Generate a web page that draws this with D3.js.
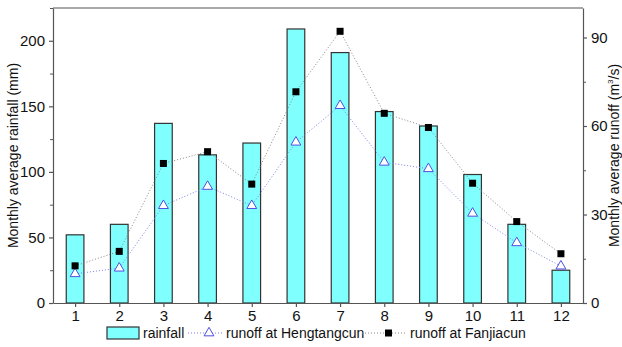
<!DOCTYPE html>
<html>
<head>
<meta charset="utf-8">
<script src="https://cdn.jsdelivr.net/npm/d3@7"></script>
<style>
  body { margin: 0; background: #fff; }
  svg { display: block; font-family: Arial, 'Liberation Sans', sans-serif; }
</style>
</head>
<body>
<svg></svg>
<script>
(function (d3) {
  'use strict'

  const months = [1, 2, 3, 4, 5, 6, 7, 8, 9, 10, 11, 12]
  const rainfall = [52, 60, 137, 113, 122, 209, 191, 146, 135, 98, 60, 25]
  const runoffHengtang = [9.9, 11.8, 33.0, 39.5, 33.0, 54.5, 66.9, 47.7, 45.5, 30.4, 20.4, 12.5]
  const runoffFanjia = [12.6, 17.5, 47.3, 51.3, 40.3, 71.6, 92.1, 64.3, 59.5, 40.6, 27.6, 16.7]
  const rainTicks = [0, 50, 100, 150, 200]
  const runoffTicks = [0, 30, 60, 90]

  const width = 622
  const height = 347
  const margin = { top: 8, right: 39, bottom: 44, left: 53 }
  const innerWidth = width - margin.left - margin.right
  const innerHeight = height - margin.top - margin.bottom

  const svg = d3.select('svg').
    attr('width', width).
    attr('height', height)

  const g = svg.append('g').
    attr('transform', `translate(${margin.left},${margin.top})`)

  const x = d3.scaleLinear().domain([0.5, 12.5]).range([0, innerWidth])
  const yRain = d3.scaleLinear().domain([0, 225]).range([innerHeight, 0])
  const yRun = d3.scaleLinear().domain([0, 100]).range([innerHeight, 0])
  const barWidth = (x(2) - x(1)) * 0.4

  // bars
  g.selectAll('rect.bar').data(months).
    enter().append('rect').
    attr('class', 'bar').
    attr('x', d => x(d) - barWidth / 2).
    attr('y', (d, i) => yRain(rainfall[i])).
    attr('width', barWidth).
    attr('height', (d, i) => innerHeight - yRain(rainfall[i])).
    attr('fill', '#80ffff').
    attr('stroke', '#333').
    attr('stroke-width', 1.2)

  const line = vals => d3.line().
    x(d => x(d)).
    y((d, i) => yRun(vals[i]))(months)

  g.append('path').
    attr('d', line(runoffHengtang)).
    attr('fill', 'none').
    attr('stroke', '#8080ee').
    attr('stroke-width', 1).
    attr('stroke-dasharray', '1,2')

  g.append('path').
    attr('d', line(runoffFanjia)).
    attr('fill', 'none').
    attr('stroke', '#888').
    attr('stroke-width', 1).
    attr('stroke-dasharray', '1,2')

  const tri = d3.symbol().type(d3.symbolTriangle).size(42)

  g.selectAll('path.tri').data(months).
    enter().append('path').
    attr('class', 'tri').
    attr('d', tri).
    attr('transform', (d, i) => `translate(${x(d)},${yRun(runoffHengtang[i])})`).
    attr('fill', '#fff').
    attr('stroke', '#5050e0').
    attr('stroke-width', 1)

  g.selectAll('rect.sq').data(months).
    enter().append('rect').
    attr('class', 'sq').
    attr('x', d => x(d) - 3.5).
    attr('y', (d, i) => yRun(runoffFanjia[i]) - 3.5).
    attr('width', 7).
    attr('height', 7).
    attr('fill', '#000')

  // axes
  const styleAxis = sel => {
    sel.select('.domain').attr('stroke', '#555').attr('stroke-width', 1.2)
    sel.selectAll('.tick line').attr('stroke', '#555').attr('stroke-width', 1.2)
    sel.selectAll('.tick text').attr('font-size', 15).attr('fill', '#111')
      .attr('font-family', 'Arial, "Liberation Sans", sans-serif')
  }

  const minorAxis = (axis, scale, ticks) => axis(scale).tickValues(ticks).tickSize(3).tickFormat('')

  g.append('g').
    attr('transform', `translate(0,${innerHeight})`).
    call(d3.axisBottom(x).tickValues(months).tickSize(4).tickSizeOuter(0).tickPadding(3)).
    call(styleAxis)

  g.append('g').
    call(d3.axisLeft(yRain).tickValues(rainTicks).tickSize(4).tickSizeOuter(0).tickPadding(4)).
    call(styleAxis)
  g.append('g').
    call(minorAxis(d3.axisLeft, yRain, [25, 75, 125, 175, 225])).
    call(sel => sel.select('.domain').remove()).
    call(sel => sel.selectAll('.tick line').attr('stroke', '#555'))

  g.append('g').
    attr('transform', `translate(${innerWidth},0)`).
    call(d3.axisRight(yRun).tickValues(runoffTicks).tickSize(4).tickSizeOuter(0).tickPadding(4)).
    call(styleAxis)
  g.append('g').
    attr('transform', `translate(${innerWidth},0)`).
    call(minorAxis(d3.axisRight, yRun, [15, 45, 75])).
    call(sel => sel.select('.domain').remove()).
    call(sel => sel.selectAll('.tick line').attr('stroke', '#555'))

  g.append('line').
    attr('x1', 0).attr('x2', innerWidth).
    attr('y1', 0).attr('y2', 0).
    attr('stroke', '#555').attr('stroke-width', 1.2)

  // axis titles
  svg.append('text').
    attr('transform', `translate(18,${margin.top + innerHeight / 2}) rotate(-90)`).
    attr('text-anchor', 'middle').
    attr('font-size', 14).
    attr('fill', '#111').
    text('Monthly average rainfall (mm)')

  const rt = svg.append('text').
    attr('transform', `translate(619,${margin.top + innerHeight / 2}) rotate(-90)`).
    attr('text-anchor', 'middle').
    attr('font-size', 14).
    attr('fill', '#111')
  rt.append('tspan').text('Monthly average runoff (m')
  rt.append('tspan').attr('font-size', 8).attr('dy', -6).text('3')
  rt.append('tspan').attr('dy', 6).text('/s)')

  // legend
  const legend = svg.append('g').attr('font-size', 14).attr('fill', '#111')
  const ly = 333

  legend.append('rect').
    attr('x', 107).attr('y', ly - 6).
    attr('width', 32).attr('height', 12).
    attr('fill', '#80ffff').attr('stroke', '#333').attr('stroke-width', 1.2)
  legend.append('text').attr('x', 143).attr('y', ly + 5).text('rainfall')

  legend.append('line').
    attr('x1', 188).attr('x2', 224).attr('y1', ly).attr('y2', ly).
    attr('stroke', '#8080ee').attr('stroke-dasharray', '1,2')
  legend.append('path').
    attr('d', tri).
    attr('transform', `translate(209,${ly})`).
    attr('fill', '#fff').attr('stroke', '#5050e0')
  legend.append('text').attr('x', 226).attr('y', ly + 5).text('runoff at Hengtangcun')

  legend.append('line').
    attr('x1', 362).attr('x2', 407).attr('y1', ly).attr('y2', ly).
    attr('stroke', '#888').attr('stroke-dasharray', '1,2')
  legend.append('rect').
    attr('x', 385).attr('y', ly - 3.5).
    attr('width', 7).attr('height', 7).attr('fill', '#000')
  legend.append('text').attr('x', 410).attr('y', ly + 5).text('runoff at Fanjiacun')
}(d3))
</script>
</body>
</html>
